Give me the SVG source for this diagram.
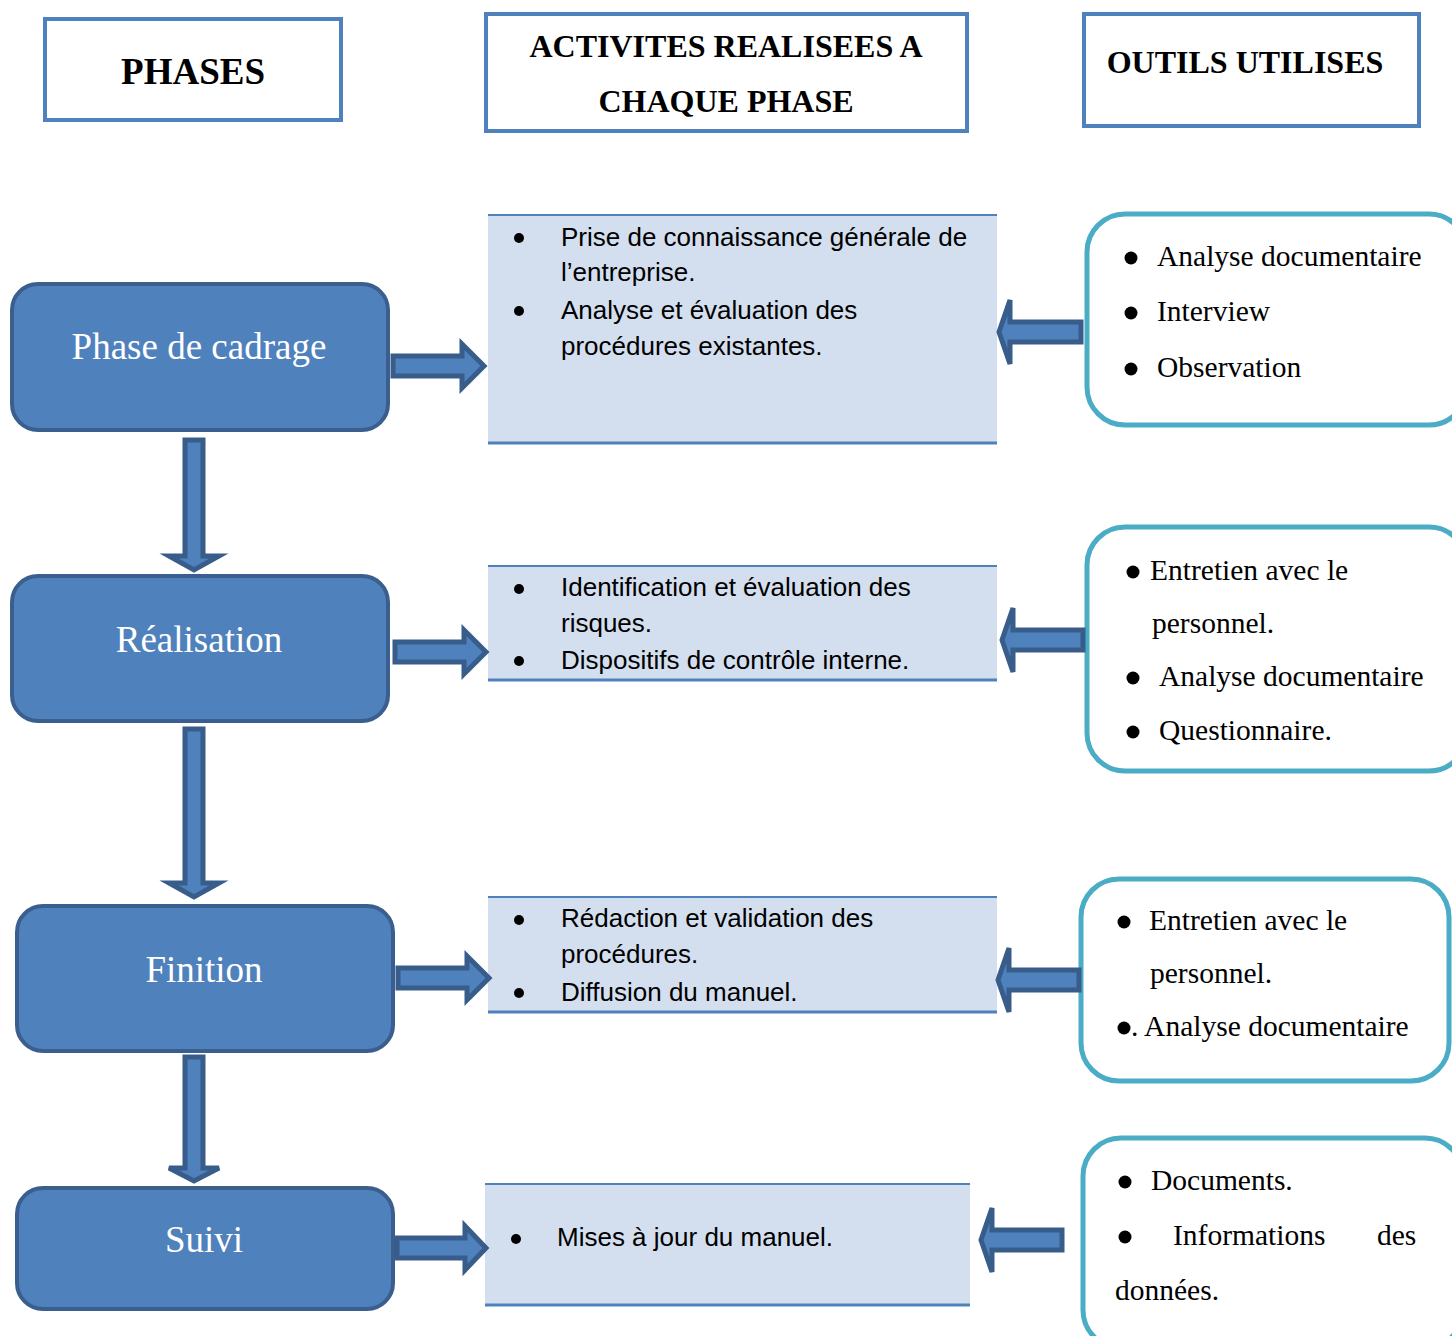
<svg xmlns="http://www.w3.org/2000/svg" width="1452" height="1336" viewBox="0 0 1452 1336">
<style>
.hdr{fill:#fff;stroke:#4F81BD;stroke-width:4}
.hdrt{font-family:"Liberation Serif",serif;font-weight:bold;fill:#000;text-anchor:middle}
.phase{fill:#4F81BD;stroke:#3A5F8E;stroke-width:4}
.pht{font-family:"Liberation Serif",serif;font-size:37px;fill:#fff;text-anchor:middle}
.act{fill:#D3DFEE}
.actl{stroke:#4F81BD;stroke-width:2}
.actb{stroke:#4F81BD;stroke-width:3}
.actt{font-family:"Liberation Sans",Arial,sans-serif;font-size:26px;fill:#000}
.tool{fill:#fff;stroke:#4BACC6;stroke-width:5}
.toolt{font-family:"Liberation Serif",serif;font-size:29.5px;fill:#000}
.arr{fill:#4F81BD;stroke:#385D8A;stroke-width:5;stroke-linejoin:miter}
</style>

<g id="hdr-phases">
<rect class="hdr" x="45" y="19" width="296" height="101"/>
<text class="hdrt" x="193" y="84" font-size="37">PHASES</text>
</g>
<g id="hdr-activites">
<rect class="hdr" x="486" y="14" width="481" height="117"/>
<text class="hdrt" x="726" y="57" font-size="32">ACTIVITES REALISEES A</text>
<text class="hdrt" x="726" y="112" font-size="32">CHAQUE PHASE</text>
</g>
<g id="hdr-outils">
<rect class="hdr" x="1084" y="14" width="335" height="112"/>
<text class="hdrt" x="1245" y="73" font-size="32">OUTILS UTILISES</text>
</g>

<g id="phase-cadrage">
<rect class="phase" x="12" y="284" width="376" height="146" rx="26"/>
<text class="pht" x="199" y="359">Phase de cadrage</text>
</g>
<g id="phase-realisation">
<rect class="phase" x="12" y="576" width="376" height="145" rx="26"/>
<text class="pht" x="199" y="652">Réalisation</text>
</g>
<g id="phase-finition">
<rect class="phase" x="17" y="906" width="376" height="145" rx="26"/>
<text class="pht" x="204" y="982">Finition</text>
</g>
<g id="phase-suivi">
<rect class="phase" x="17" y="1188" width="376" height="121" rx="26"/>
<text class="pht" x="204" y="1252">Suivi</text>
</g>

<g id="act-1">
<rect class="act" x="488" y="215" width="509" height="228"/>
<line class="actl" x1="488" y1="215" x2="997" y2="215"/>
<line class="actb" x1="488" y1="443" x2="997" y2="443"/>
<circle cx="519" cy="238" r="5"/>
<circle cx="519" cy="311" r="5"/>
<text class="actt" x="561" y="246">Prise de connaissance générale de</text>
<text class="actt" x="561" y="281">l’entreprise.</text>
<text class="actt" x="561" y="319">Analyse et évaluation des</text>
<text class="actt" x="561" y="355">procédures existantes.</text>
</g>
<g id="act-2">
<rect class="act" x="488" y="566" width="509" height="114"/>
<line class="actl" x1="488" y1="566" x2="997" y2="566"/>
<line class="actb" x1="488" y1="680" x2="997" y2="680"/>
<circle cx="519" cy="589" r="5"/>
<circle cx="519" cy="661" r="5"/>
<text class="actt" x="561" y="596">Identification et évaluation des</text>
<text class="actt" x="561" y="632">risques.</text>
<text class="actt" x="561" y="669">Dispositifs de contrôle interne.</text>
</g>
<g id="act-3">
<rect class="act" x="488" y="897" width="509" height="115"/>
<line class="actl" x1="488" y1="897" x2="997" y2="897"/>
<line class="actb" x1="488" y1="1012" x2="997" y2="1012"/>
<circle cx="519" cy="920" r="5"/>
<circle cx="519" cy="993" r="5"/>
<text class="actt" x="561" y="927">Rédaction et validation des</text>
<text class="actt" x="561" y="963">procédures.</text>
<text class="actt" x="561" y="1001">Diffusion du manuel.</text>
</g>
<g id="act-4">
<rect class="act" x="485" y="1184" width="485" height="121"/>
<line class="actl" x1="485" y1="1184" x2="970" y2="1184"/>
<line class="actb" x1="485" y1="1305" x2="970" y2="1305"/>
<circle cx="516" cy="1239" r="5"/>
<text class="actt" x="557" y="1246">Mises à jour du manuel.</text>
</g>

<g id="tool-1">
<rect class="tool" x="1087" y="214" width="380" height="211" rx="38"/>
<circle cx="1131" cy="258" r="6.5"/>
<circle cx="1131" cy="313" r="6.5"/>
<circle cx="1131" cy="369" r="6.5"/>
<text class="toolt" x="1157" y="266">Analyse documentaire</text>
<text class="toolt" x="1157" y="321">Interview</text>
<text class="toolt" x="1157" y="377">Observation</text>
</g>
<g id="tool-2">
<rect class="tool" x="1087" y="527" width="380" height="244" rx="38"/>
<circle cx="1133" cy="572" r="6.5"/>
<circle cx="1133" cy="678" r="6.5"/>
<circle cx="1133" cy="732" r="6.5"/>
<text class="toolt" x="1150" y="580">Entretien avec le</text>
<text class="toolt" x="1152" y="633">personnel.</text>
<text class="toolt" x="1159" y="686">Analyse documentaire</text>
<text class="toolt" x="1159" y="740">Questionnaire.</text>
</g>
<g id="tool-3">
<rect class="tool" x="1081" y="879" width="368" height="202" rx="38"/>
<circle cx="1124" cy="922" r="6.5"/>
<circle cx="1124" cy="1028" r="6.5"/>
<text class="toolt" x="1149" y="930">Entretien avec le</text>
<text class="toolt" x="1150" y="983">personnel.</text>
<text class="toolt" x="1131" y="1036">. Analyse documentaire</text>
</g>
<g id="tool-4">
<rect class="tool" x="1083" y="1138" width="380" height="210" rx="38"/>
<circle cx="1125" cy="1182" r="6.5"/>
<circle cx="1125" cy="1237" r="6.5"/>
<text class="toolt" x="1151" y="1190">Documents.</text>
<text class="toolt" x="1173" y="1245">Informations</text>
<text class="toolt" x="1377" y="1245">des</text>
<text class="toolt" x="1115" y="1300">données.</text>
</g>

<g id="connectors">
<path class="arr" d="M185,440 H203 V556 H219 L194,570 L169,556 H185 Z"/>
<path class="arr" d="M185,729 H203 V883 H219 L194,897 L169,883 H185 Z"/>
<path class="arr" d="M185,1057 H203 V1168 H219 L194,1181 L169,1168 H185 Z"/>
<path class="arr" d="M393,356 H462 V344 L484,366 L462,388 V376 H393 Z"/>
<path class="arr" d="M395,642 H464 V630 L486,652 L464,674 V662 H395 Z"/>
<path class="arr" d="M398,968 H467 V956 L489,978 L467,1000 V988 H398 Z"/>
<path class="arr" d="M397,1238 H465 V1226 L486,1248 L465,1270 V1258 H397 Z"/>
<path class="arr" d="M1081,322 H1010 V300 L999,332 L1010,364 V342 H1081 Z"/>
<path class="arr" d="M1083,630 H1013 V608 L1002,640 L1013,672 V650 H1083 Z"/>
<path class="arr" d="M1079,970 H1009 V948 L998,980 L1009,1012 V990 H1079 Z"/>
<path class="arr" d="M1062,1230 H992 V1208 L981,1240 L992,1272 V1250 H1062 Z"/>
</g>
</svg>
